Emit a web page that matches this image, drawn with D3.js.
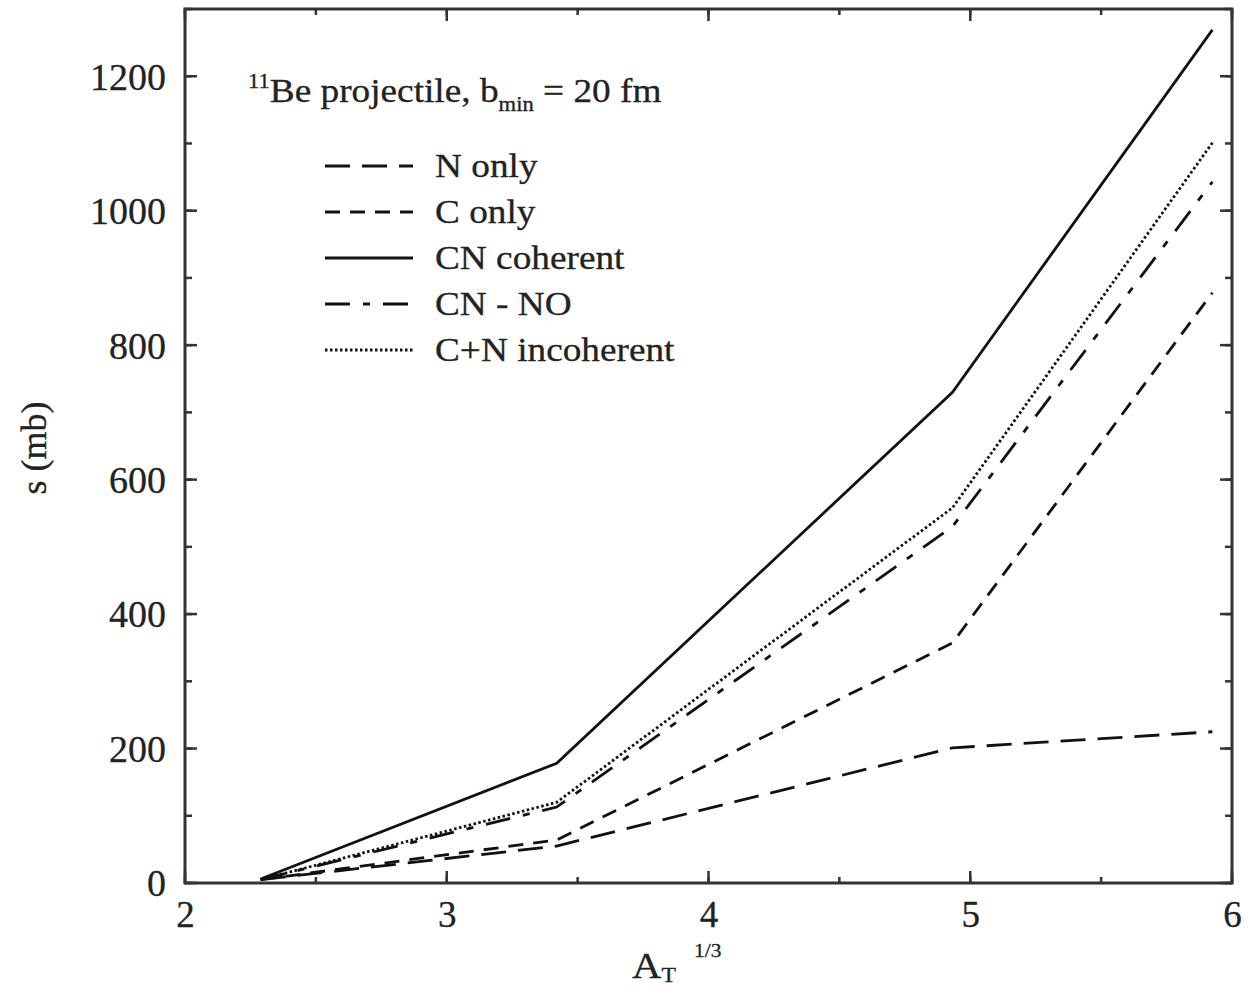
<!DOCTYPE html>
<html>
<head>
<meta charset="utf-8">
<script src="https://cdn.jsdelivr.net/npm/d3@7"></script>
<style>
  body { margin: 0; background: #fff; }
  text { font-family: "Liberation Serif", "DejaVu Serif", serif; fill: #222; stroke: #222; stroke-width: 0.3px; }
</style>
</head>
<body>
<div id="grafico"></div>
<script>
// Dados (A_T^(1/3) contra seção de choque em mb)
const aT = [2.289, 3.420, 4.932, 5.925];
const nOnly = [5, 55, 201, 225];
const cOnly = [5, 64, 357, 878];
const cnCoherent = [6, 178, 730, 1269];
const cnNO = [5, 113, 530, 1043];
const cnIncoherent = [5, 120, 558, 1101];

const nomes = ["N only", "C only", "CN coherent", "CN - NO", "C+N incoherent"];
const tracos = ["25,12", "15,10", "", "25,13,7,13", "2.5,2.5"];
const series = [nOnly, cOnly, cnCoherent, cnNO, cnIncoherent];

const xTicks = [2, 3, 4, 5, 6];
const yTicks = [0, 200, 400, 600, 800, 1000, 1200];

// Configurações do gráfico
let largura = 1254, altura = 988;
let margin = { top: 9, right: 22, bottom: 105, left: 185 };
let width = largura - margin.left - margin.right;
let height = altura - margin.top - margin.bottom;

// Texto da figura original é um pouco "esticado" na horizontal
const esticar = 1.13;

let svg = d3.select('#grafico').append('svg')
    .attr('width', largura)
    .attr('height', altura)
    .append('g')
    .attr('transform', `translate(${margin.left}, ${margin.top})`);

// Escalas
let x = d3.scaleLinear().domain([2, 6]).range([0, width]);
let y = d3.scaleLinear().domain([0, 1300]).range([height, 0]);

// Marcas menores (meio passo) e maiores, para dentro nos quatro lados
const xMenor = d3.range(2, 6.01, 0.5);
const yMenor = d3.range(0, 1301, 100);

function marcas(g, valores, escala, lado, tamanho) {
    valores.forEach(v => {
        let p = escala(v);
        if (lado === 'baixo') g.append('line').attr('x1', p).attr('x2', p).attr('y1', height).attr('y2', height - tamanho);
        if (lado === 'cima') g.append('line').attr('x1', p).attr('x2', p).attr('y1', 0).attr('y2', tamanho);
        if (lado === 'esq') g.append('line').attr('y1', p).attr('y2', p).attr('x1', 0).attr('x2', tamanho);
        if (lado === 'dir') g.append('line').attr('y1', p).attr('y2', p).attr('x1', width).attr('x2', width - tamanho);
    });
}

let gMarcas = svg.append('g').attr('stroke', '#333').attr('stroke-width', 2.5);
marcas(gMarcas, xMenor, x, 'baixo', 6);
marcas(gMarcas, xMenor, x, 'cima', 6);
marcas(gMarcas, xTicks, x, 'baixo', 12);
marcas(gMarcas, xTicks, x, 'cima', 12);
marcas(gMarcas, yMenor, y, 'esq', 7);
marcas(gMarcas, yMenor, y, 'dir', 7);
marcas(gMarcas, yTicks, y, 'esq', 12);
marcas(gMarcas, yTicks, y, 'dir', 12);

// Rótulos dos eixos usando os eixos do d3 (sem linhas)
let eixoX = svg.append('g')
    .attr('transform', `translate(0, ${height})`)
    .call(d3.axisBottom(x).tickValues(xTicks).tickSize(0).tickPadding(18).tickFormat(d3.format('d')));
eixoX.select('.domain').remove();
eixoX.selectAll('text').style('font-size', '37px').style('font-family', '"Liberation Serif", serif').attr('fill', '#222');

let eixoY = svg.append('g')
    .call(d3.axisLeft(y).tickValues(yTicks).tickSize(0).tickPadding(19).tickFormat(d3.format('d')));
eixoY.select('.domain').remove();
eixoY.selectAll('text').style('font-size', '38px').style('font-family', '"Liberation Serif", serif').attr('fill', '#222').attr('dy', '0.34em');

// Caixa
svg.append('rect')
    .attr('width', width).attr('height', height)
    .attr('fill', 'none').attr('stroke', '#333').attr('stroke-width', 3);

// Linhas
let line = d3.line()
    .x((d, i) => x(aT[i]))
    .y(d => y(d));

series.forEach((s, n) => {
    svg.append('path')
        .datum(s)
        .attr('d', line)
        .attr('fill', 'none')
        .attr('stroke', '#111')
        .attr('stroke-width', 2.8)
        .attr('stroke-dasharray', tracos[n] || null);
});

// Legenda
let legX0 = 325 - margin.left, legX1 = 413 - margin.left, legY = 166 - margin.top, passo = 46;
nomes.forEach((nome, n) => {
    svg.append('line')
        .attr('x1', legX0).attr('x2', legX1)
        .attr('y1', legY + n * passo).attr('y2', legY + n * passo)
        .attr('stroke', '#111').attr('stroke-width', 2.8)
        .attr('stroke-dasharray', tracos[n] || null);
    svg.append('g')
        .attr('transform', `translate(${435 - margin.left}, ${legY + n * passo + 11}) scale(${esticar}, 1)`)
        .append('text')
        .style('font-size', '33px')
        .text(nome);
});

// Anotação 11Be
let anot = svg.append('g')
    .attr('transform', `translate(${248 - margin.left}, ${102 - margin.top}) scale(${esticar}, 1)`)
    .append('text')
    .style('font-size', '33px');
anot.append('tspan').style('font-size', '20px').attr('dy', -14).text('11');
anot.append('tspan').attr('dy', 14).text('Be projectile, b');
anot.append('tspan').style('font-size', '20px').attr('dy', 9).text('min');
anot.append('tspan').attr('dy', -9).text(' = 20 fm');

// Título eixo y
svg.append('text')
    .attr('transform', `translate(${46 - margin.left}, ${height / 2 + 2}) rotate(-90)`)
    .style('text-anchor', 'middle')
    .style('font-size', '36px')
    .text('s (mb)');

// Título eixo x
let tituloX = svg.append('g')
    .attr('transform', `translate(${632 - margin.left}, ${978 - margin.top}) scale(${esticar}, 1)`)
    .append('text')
    .style('font-size', '36px');
tituloX.append('tspan').text('A');
tituloX.append('tspan').style('font-size', '21px').attr('dy', 4).text('T');
tituloX.append('tspan').style('font-size', '19px').attr('dx', 16).attr('dy', -25).text('1/3');
</script>
</body>
</html>
